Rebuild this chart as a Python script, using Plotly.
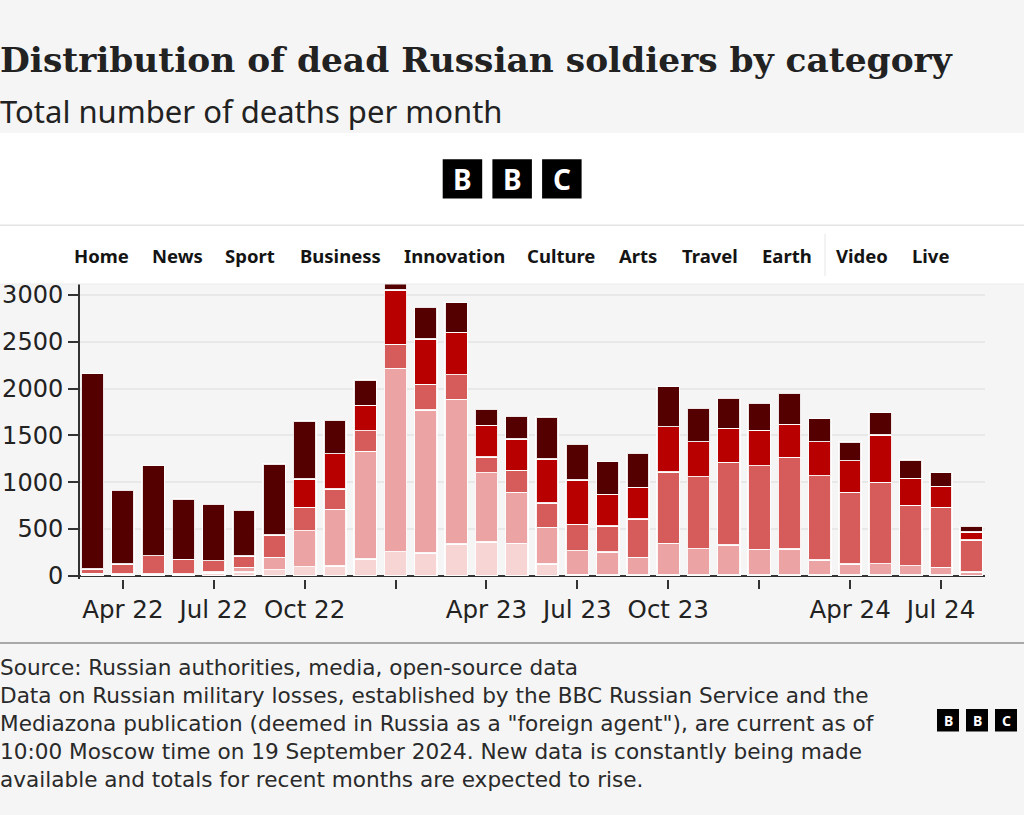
import plotly.graph_objects as go

# ---------------- data ----------------
months = ["Mar 22", "Apr 22", "May 22", "Jun 22", "Jul 22", "Aug 22", "Sep 22", "Oct 22",
          "Nov 22", "Dec 22", "Jan 23", "Feb 23", "Mar 23", "Apr 23", "May 23", "Jun 23",
          "Jul 23", "Aug 23", "Sep 23", "Oct 23", "Nov 23", "Dec 23", "Jan 24", "Feb 24",
          "Mar 24", "Apr 24", "May 24", "Jun 24", "Jul 24", "Aug 24"]

cat1 = [10, 5, 5, 5, 30, 40, 64, 96, 103, 178, 257, 242, 338, 360, 346, 125,
        15, 10, 5, 5, 5, 5, 5, 5, 5, 5, 5, 5, 5, 3]
cat2 = [15, 15, 15, 15, 10, 50, 132, 385, 606, 1151, 1959, 1529, 1547, 741, 545, 392,
        252, 243, 191, 341, 284, 323, 276, 280, 162, 120, 123, 102, 84, 36]
cat3 = [45, 105, 194, 155, 120, 120, 239, 249, 217, 221, 257, 274, 263, 167, 235, 260,
        282, 278, 410, 762, 769, 883, 895, 980, 902, 766, 870, 645, 641, 342]
cat4 = [0, 0, 0, 0, 0, 0, 0, 303, 378, 271, 581, 485, 453, 339, 335, 470,
        474, 338, 338, 485, 374, 364, 377, 353, 363, 338, 506, 288, 225, 86]
cat5 = [2090, 787, 962, 644, 602, 488, 759, 620, 356, 270, 150, 338, 317, 171, 242, 449,
        381, 350, 364, 427, 357, 320, 289, 331, 246, 200, 238, 196, 146, 60]

series_names = ["Category 1", "Category 2", "Category 3", "Category 4", "Category 5"]
series_values = [cat1, cat2, cat3, cat4, cat5]
series_colors = ["#F8D5D5", "#EBA3A3", "#D65C5C", "#B80000", "#550000"]

tick_vals = ["Apr 22", "Jul 22", "Oct 22", "Jan 23", "Apr 23", "Jul 23", "Oct 23",
             "Jan 24", "Apr 24", "Jul 24"]
tick_text = ["Apr 22", "Jul 22", "Oct 22", "", "Apr 23", "Jul 23", "Oct 23",
             "", "Apr 24", "Jul 24"]
y_ticks = [0, 500, 1000, 1500, 2000, 2500, 3000]

nav_items = ["Home", "News", "Sport", "Business", "Innovation", "Culture", "Arts",
             "Travel", "Earth", "Video", "Live"]
nav_x = [74, 152, 225, 300, 404, 527, 619, 682, 762, 836, 912]

title = "Distribution of dead Russian soldiers by category"
subtitle = "Total number of deaths per month"
footer_lines = [
    "Source: Russian authorities, media, open-source data",
    "Data on Russian military losses, established by the BBC Russian Service and the",
    "Mediazona publication (deemed in Russia as a \"foreign agent\"), are current as of",
    "10:00 Moscow time on 19 September 2024. New data is constantly being made",
    "available and totals for recent months are expected to rise.",
]

# ---------------- geometry ----------------
W, H = 1024, 815
L, R, T, B = 80, 39, 150, 236
plot_w = W - L - R
plot_h = H - T - B
zero_px = 575.7
ppu = (575.7 - 295.0) / 3000.0
ymin = -((H - B) - zero_px) / ppu
ymax = ymin + plot_h / ppu
slot = (971.3 - 92.5) / 29.0
xmin = -(92.5 - L) / slot
xmax = xmin + plot_w / slot


def px(x):
    return (x - L) / plot_w


def py(y):
    return ((H - B) - y) / plot_h


BG = "#f5f5f5"
TXT = "#222222"
SANS = "Noto Sans"

fig = go.Figure()
for name, vals, col in zip(series_names, series_values, series_colors):
    fig.add_trace(go.Bar(
        x=months, y=vals, name=name,
        marker=dict(color=col, line=dict(color="rgba(255,255,255,0.9)", width=1.5)),
    ))

shapes = []
annotations = []

# white BBC header band
shapes.append(dict(type="rect", xref="paper", yref="paper", x0=px(0), x1=px(W),
                   y0=py(284), y1=py(133), fillcolor="white", line=dict(width=0),
                   layer="above"))
shapes.append(dict(type="line", xref="paper", yref="paper", x0=px(0), x1=px(W),
                   y0=py(225.3), y1=py(225.3), line=dict(color="#e4e4e4", width=1.5),
                   layer="above"))
shapes.append(dict(type="line", xref="paper", yref="paper", x0=px(0), x1=px(W),
                   y0=py(284), y1=py(284), line=dict(color="#ececec", width=1),
                   layer="above"))
shapes.append(dict(type="line", xref="paper", yref="paper", x0=px(825), x1=px(825),
                   y0=py(234), y1=py(276), line=dict(color="#e6e6e6", width=1),
                   layer="above"))

# big BBC logo
for i, letter in enumerate("BBC"):
    x0 = 442.7 + i * 49.7
    shapes.append(dict(type="rect", xref="paper", yref="paper", x0=px(x0), x1=px(x0 + 39.5),
                       y0=py(198.5), y1=py(159.3), fillcolor="black", line=dict(width=0),
                       layer="above"))
    annotations.append(dict(text="<b>%s</b>" % letter, xref="paper", yref="paper",
                            x=px(x0 + 19.75), y=py(179), xanchor="center", yanchor="middle",
                            showarrow=False, font=dict(family=SANS, size=28, color="white")))

# nav items
for item, xx in zip(nav_items, nav_x):
    annotations.append(dict(text="<b>%s</b>" % item, xref="paper", yref="paper",
                            x=px(xx - 2), y=py(255), xanchor="left", yanchor="middle",
                            showarrow=False, font=dict(family=SANS, size=18.5, color="#141414")))

# title / subtitle
annotations.append(dict(text="<b>%s</b>" % title, xref="paper", yref="paper",
                        x=px(-2), y=py(60), xanchor="left", yanchor="middle", showarrow=False,
                        font=dict(family="DejaVu Serif", size=34.4, color=TXT)))
annotations.append(dict(text=subtitle, xref="paper", yref="paper",
                        x=px(-2), y=py(111), xanchor="left", yanchor="middle", showarrow=False,
                        font=dict(family=SANS, size=31, color=TXT)))

# footer
shapes.append(dict(type="line", xref="paper", yref="paper", x0=px(0), x1=px(W),
                   y0=py(643), y1=py(643), line=dict(color="#8f8f8f", width=1.5),
                   layer="above"))
footer_fs = 21.6
annotations.append(dict(text="<br>".join(footer_lines), xref="paper", yref="paper",
                        x=px(-2), y=py(668 + 27.5 * 2), xanchor="left", yanchor="middle",
                        align="left", showarrow=False,
                        font=dict(family="DejaVu Sans", size=footer_fs, color="#2a2a2a")))

# small BBC logo
for i, letter in enumerate("BBC"):
    x0 = 937 + i * 29
    shapes.append(dict(type="rect", xref="paper", yref="paper", x0=px(x0), x1=px(x0 + 22),
                       y0=py(731.5), y1=py(709), fillcolor="black", line=dict(width=0),
                       layer="above"))
    annotations.append(dict(text="<b>%s</b>" % letter, xref="paper", yref="paper",
                            x=px(x0 + 11), y=py(720.5), xanchor="center", yanchor="middle",
                            showarrow=False, font=dict(family=SANS, size=14, color="white")))

fig.update_layout(
    width=W, height=H,
    margin=dict(l=L, r=R, t=T, b=B, pad=0),
    paper_bgcolor=BG, plot_bgcolor=BG,
    barmode="stack", bargap=0.264,
    showlegend=False,
    shapes=shapes, annotations=annotations,
    xaxis=dict(type="category", range=[xmin, xmax], tickmode="array",
               tickvals=tick_vals, ticktext=tick_text, ticks="outside", ticklen=9,
               tickwidth=2, tickcolor="#333333", showgrid=False, showline=False,
               zeroline=False, automargin=False,
               tickfont=dict(family="DejaVu Sans", size=24.5, color=TXT)),
    yaxis=dict(range=[ymin, ymax], tickmode="array", tickvals=y_ticks,
               ticks="outside", ticklen=10, tickwidth=2, tickcolor="#333333",
               showline=True, linecolor="#333333", linewidth=2,
               showgrid=True, gridcolor="#e8e8e8", gridwidth=2,
               zeroline=True, zerolinecolor="#333333", zerolinewidth=2,
               automargin=False,
               tickfont=dict(family="DejaVu Sans", size=24, color=TXT)),
)

fig.write_html("out.html", config={"displayModeBar": False},
               post_script="document.body.style.margin='0';document.body.style.padding='0';")
